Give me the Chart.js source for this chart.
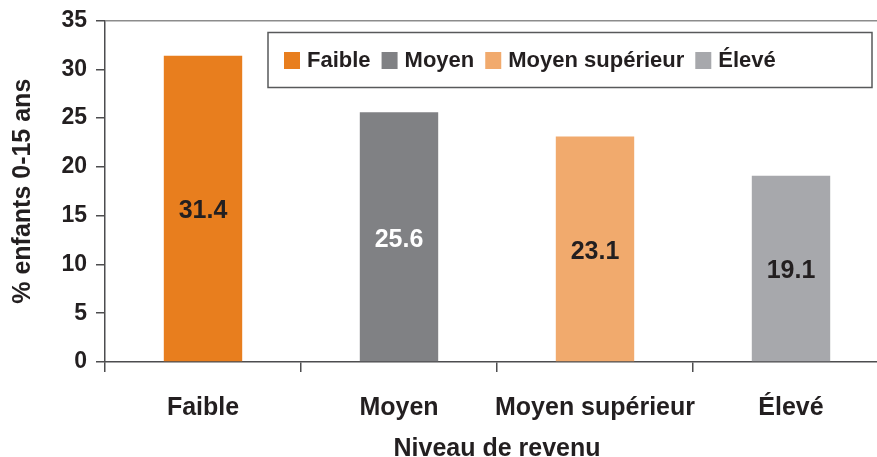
<!DOCTYPE html>
<html>
<head>
<meta charset="utf-8">
<script src="https://cdn.jsdelivr.net/npm/chart.js@4"></script>
<style>
  html, body { margin: 0; padding: 0; background: #fff; overflow: hidden; }
  #wrap { width: 877px; height: 457px; overflow: hidden; }
</style>
</head>
<body>
<div id="wrap"><canvas id="grafica" width="889" height="457"></canvas></div>
<script>
const categorias = ["Faible", "Moyen", "Moyen supérieur", "Élevé"];
const valores = [31.4, 25.6, 23.1, 19.1];
const colores = ["#e87e1e", "#808184", "#f1aa6d", "#a7a8ac"];
const coloresEtiqueta = ["#231f20", "#ffffff", "#231f20", "#231f20"];
const ticksY = [0, 5, 10, 15, 20, 25, 30, 35];

const FUENTE = "'Liberation Sans', Arial, sans-serif";
const TEXTO = "#231f20";

// etiquetas de valor centradas dentro de cada barra
const etiquetasBarras = {
    id: "etiquetasBarras",
    afterDatasetsDraw(chart) {
        const ctx = chart.ctx;
        const meta = chart.getDatasetMeta(0);
        ctx.save();
        ctx.font = "bold 25px " + FUENTE;
        ctx.textAlign = "center";
        ctx.textBaseline = "middle";
        meta.data.forEach((bar, i) => {
            ctx.fillStyle = coloresEtiqueta[i];
            ctx.fillText(valores[i].toFixed(1), bar.x, (bar.y + bar.base) / 2 + 3);
        });
        ctx.restore();
    }
};

// leyenda con recuadro dentro del area del grafico
const leyendaCaja = {
    id: "leyendaCaja",
    afterDraw(chart) {
        const ctx = chart.ctx;
        const area = chart.chartArea;
        const x0 = area.left + 163, y0 = area.top + 12;
        const ancho = 604, alto = 55;
        ctx.save();
        ctx.fillStyle = "#fff";
        ctx.fillRect(x0, y0, ancho, alto);
        ctx.strokeStyle = "#58595b";
        ctx.lineWidth = 1.5;
        ctx.strokeRect(x0, y0, ancho, alto);
        ctx.font = "bold 22px " + FUENTE;
        ctx.textBaseline = "middle";
        ctx.textAlign = "left";
        let x = x0 + 16;
        const yc = y0 + alto / 2;
        categorias.forEach((c, i) => {
            ctx.fillStyle = colores[i];
            ctx.fillRect(x, yc - 8, 16, 17);
            x += 23;
            ctx.fillStyle = TEXTO;
            ctx.fillText(c, x, yc + 1);
            x += ctx.measureText(c).width + 11;
        });
        ctx.restore();
    }
};

new Chart(document.getElementById("grafica").getContext("2d"), {
    type: "bar",
    data: {
        labels: categorias,
        datasets: [{
            data: valores,
            backgroundColor: colores,
            borderWidth: 0,
            barPercentage: 0.4,
            categoryPercentage: 1.0
        }]
    },
    options: {
        responsive: false,
        animation: false,
        devicePixelRatio: 1,
        layout: { padding: { top: 20, right: 0, left: 0, bottom: 0 } },
        plugins: {
            legend: { display: false },
            tooltip: { enabled: false }
        },
        scales: {
            y: {
                min: 0,
                max: 35,
                afterBuildTicks: (scale) => { scale.ticks = ticksY.map(v => ({ value: v })); },
                afterFit: (scale) => { scale.width = 105; },
                border: { display: true, color: "#4d4d4f", width: 1.5 },
                grid: {
                    drawOnChartArea: true,
                    color: (c) => (c.tick && c.tick.value === 35 ? "#8c8c8c" : "rgba(0,0,0,0)"),
                    lineWidth: 1.5,
                    tickColor: "#4d4d4f",
                    tickLength: 9
                },
                ticks: {
                    color: TEXTO,
                    padding: 9,
                    font: { family: FUENTE, size: 23, weight: "bold", lineHeight: 1.0 }
                },
                title: {
                    display: true,
                    text: "% enfants 0-15 ans",
                    color: TEXTO,
                    padding: { top: 8, bottom: 0 },
                    font: { family: FUENTE, size: 25, weight: "bold" }
                }
            },
            x: {
                afterFit: (scale) => { scale.height = 95; },
                border: { display: true, color: "#4d4d4f", width: 1.5 },
                grid: {
                    offset: true,
                    drawOnChartArea: false,
                    tickColor: "#4d4d4f",
                    tickLength: 10,
                    lineWidth: 1.5
                },
                ticks: {
                    color: TEXTO,
                    padding: 21,
                    maxRotation: 0,
                    autoSkip: false,
                    font: { family: FUENTE, size: 25, weight: "bold" }
                },
                title: {
                    display: true,
                    text: "Niveau de revenu",
                    color: TEXTO,
                    padding: { top: 0, bottom: 0 },
                    font: { family: FUENTE, size: 25, weight: "bold", lineHeight: 0.66 }
                }
            }
        }
    },
    plugins: [etiquetasBarras, leyendaCaja]
});
</script>
</body>
</html>
